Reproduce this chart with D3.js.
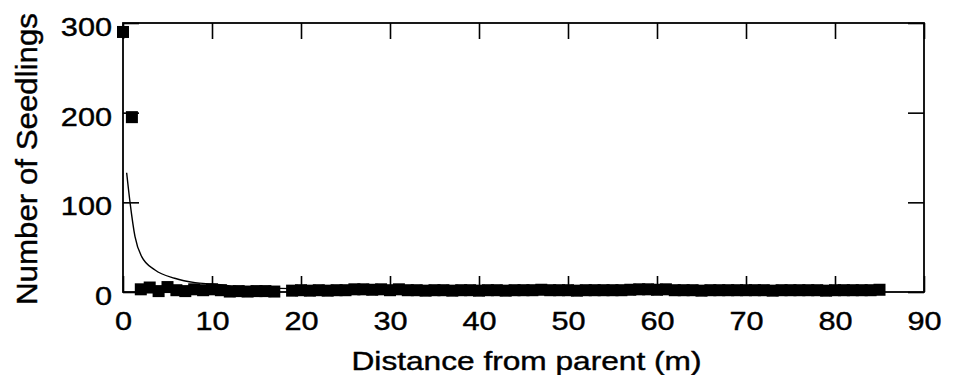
<body style="margin:0;background:#fff">

<svg></svg>

<script src="https://d3js.org/d3.v7.min.js"></script>
<script>

var distance = [0, 1, 2, 3, 4, 5, 6, 7, 8, 9, 10, 11, 12, 13, 14, 15, 16, 17,
  19, 20, 21, 22, 23, 24, 25, 26, 27, 28, 29, 30, 31, 32, 33, 34, 35, 36, 37, 38, 39, 40,
  41, 42, 43, 44, 45, 46, 47, 48, 49, 50, 51, 52, 53, 54, 55, 56, 57, 58, 59, 60,
  61, 62, 63, 64, 65, 66, 67, 68, 69, 70, 71, 72, 73, 74, 75, 76, 77, 78, 79, 80,
  81, 82, 83, 84, 85];
var seedlings = [290, 195, 3, 5, 1, 5.5, 2, 1, 3, 2, 3, 2, 0.5, 1, 0.5, 1, 1, 0.5,
  1.5, 2, 1.5, 2, 1.5, 2, 2, 3, 3, 2.5, 3, 2, 3, 2, 2, 1.5, 2, 2, 1.5, 2, 2, 1.5,
  2, 2, 1.5, 2, 2, 2, 2.5, 2, 2, 2, 1.5, 2, 2, 2, 2, 2, 2.5, 3, 3, 2.5,
  3, 2, 2, 2, 1.5, 2, 2, 2, 2, 2, 2, 2, 1.5, 2, 2, 2, 2, 2, 1.5, 2,
  2, 2, 2, 2, 2.5];

// fitted curve, points
var curveX = [0.41, 0.79, 1.35, 2.1, 3.6, 5.8, 8.1, 10, 13, 17, 25, 40, 60, 85];
var curveY = [133, 100, 61.7, 39.4, 24.5, 15.3, 10.4, 8.9, 6, 4.3, 3, 2.2, 1.6, 1.3];

var xTicks = [0, 10, 20, 30, 40, 50, 60, 70, 80, 90];
var yTicks = [0, 100, 200, 300];

var width = 954;
var height = 375;
var margin = {top: 23, right: 30, bottom: 83, left: 123};
var font = "'Liberation Sans', Arial, Helvetica, sans-serif";

const svg = d3.select("svg")
    .attr("width", width)
    .attr("height", height)
    .attr("viewBox", [0, 0, width, height]);

var x = d3.scaleLinear().domain([0, 90]).range([margin.left, width - margin.right]);
var y = d3.scaleLinear().domain([0, 300]).range([height - margin.bottom, margin.top]);

// inward ticks on all four sides
function styleAxis(g) {
  g.select(".domain").remove();
  g.selectAll(".tick line").attr("stroke", "#000").attr("stroke-width", 1.6);
  g.selectAll("text")
      .attr("font-family", font)
      .attr("font-size", 26)
      .attr("fill", "#000")
      .attr("stroke", "#000")
      .attr("stroke-width", 0.4);
}

svg.append("g")
    .attr("transform", `translate(0,${y(0)})`)
    .call(d3.axisBottom(x).tickValues(xTicks).tickSize(-16).tickPadding(20))
    .call(styleAxis)
    .call(g => g.selectAll("text").attr("transform", "scale(1.18,1)"));

svg.append("g")
    .attr("transform", `translate(0,${y(300)})`)
    .call(d3.axisTop(x).tickValues(xTicks).tickSize(-16).tickFormat(""))
    .call(styleAxis);

svg.append("g")
    .attr("transform", `translate(${x(0)},0)`)
    .call(d3.axisLeft(y).tickValues(yTicks).tickSize(-16))
    .call(styleAxis)
    .call(g => g.selectAll("text").attr("x", 0).attr("dy", "0.4em")
        .attr("transform", "translate(-11,2) scale(1.18,1)"));

svg.append("g")
    .attr("transform", `translate(${x(90)},0)`)
    .call(d3.axisRight(y).tickValues(yTicks).tickSize(-16).tickFormat(""))
    .call(styleAxis);

svg.append("rect")
    .attr("x", x(0))
    .attr("y", y(300))
    .attr("width", x(90) - x(0))
    .attr("height", y(0) - y(300))
    .attr("fill", "none")
    .attr("stroke", "#000")
    .attr("stroke-width", 1.8);

// fitted curve
var line = d3.line()
    .x(i => x(curveX[i]))
    .y(i => y(curveY[i]))
    .curve(d3.curveMonotoneX);

svg.append("path")
    .attr("d", line(d3.range(curveX.length)))
    .attr("fill", "none")
    .attr("stroke", "#000")
    .attr("stroke-width", 1.4);

// observed counts
var size = 12;
svg.selectAll("rect.pt")
    .data(distance)
    .join("rect")
        .attr("class", "pt")
        .attr("x", d => x(d) - size / 2)
        .attr("y", (d, i) => y(seedlings[i]) - size / 2)
        .attr("width", size)
        .attr("height", size)
        .attr("fill", "#000");

// axis titles
svg.append("text")
    .attr("x", (x(0) + x(90)) / 2 + 3)
    .attr("y", 370)
    .attr("text-anchor", "middle")
    .attr("font-family", font)
    .attr("font-size", 25)
    .attr("stroke", "#000")
    .attr("stroke-width", 0.4)
    .attr("textLength", 350)
    .attr("lengthAdjust", "spacingAndGlyphs")
    .text("Distance from parent (m)");

svg.append("text")
    .attr("transform", "translate(37,159) rotate(-90)")
    .attr("text-anchor", "middle")
    .attr("font-family", font)
    .attr("font-size", 30)
    .attr("stroke", "#000")
    .attr("stroke-width", 0.4)
    .attr("textLength", 292)
    .attr("lengthAdjust", "spacingAndGlyphs")
    .text("Number of Seedlings");

</script>

</body>
